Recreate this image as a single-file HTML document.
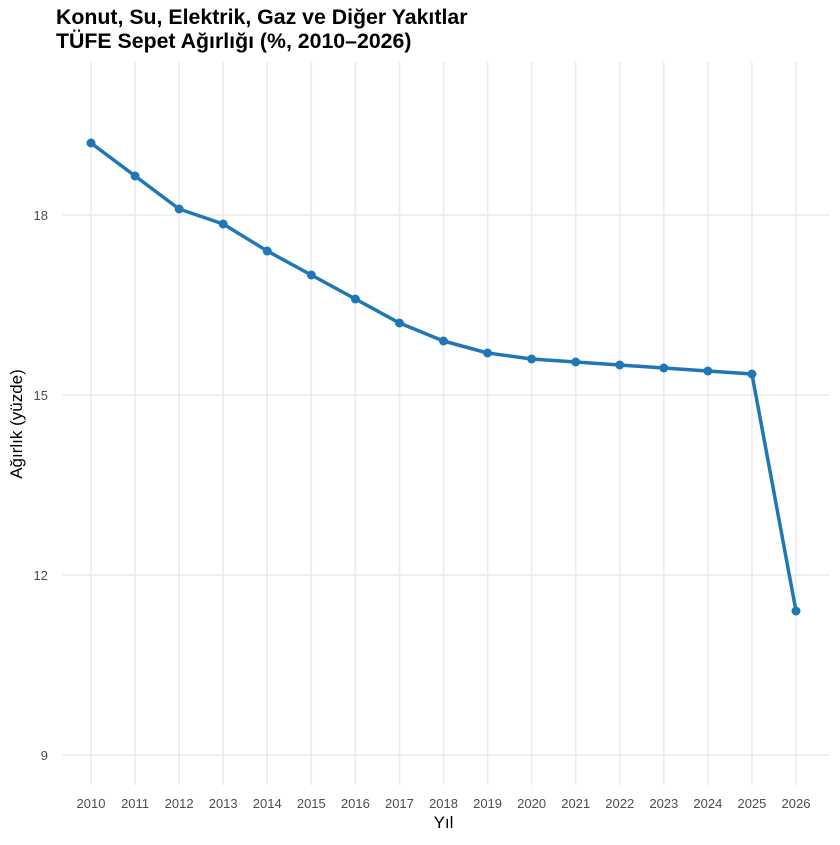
<!DOCTYPE html>
<html><head><meta charset="utf-8"><style>
html,body{margin:0;padding:0;background:#fff;}
</style></head><body>
<svg width="840" height="840" xmlns="http://www.w3.org/2000/svg" font-family="Liberation Sans, sans-serif">
<rect width="840" height="840" fill="#fff"/>
<g transform="translate(0,1)">
<g stroke="#ebebeb" stroke-width="1.6">
<line x1="62" x2="830" y1="214" y2="214"/>
<line x1="62" x2="830" y1="394" y2="394"/>
<line x1="62" x2="830" y1="574" y2="574"/>
<line x1="62" x2="830" y1="754" y2="754"/>
<line x1="91" x2="91" y1="61" y2="784"/>
<line x1="135.06" x2="135.06" y1="61" y2="784"/>
<line x1="179.13" x2="179.13" y1="61" y2="784"/>
<line x1="223.19" x2="223.19" y1="61" y2="784"/>
<line x1="267.25" x2="267.25" y1="61" y2="784"/>
<line x1="311.31" x2="311.31" y1="61" y2="784"/>
<line x1="355.38" x2="355.38" y1="61" y2="784"/>
<line x1="399.44" x2="399.44" y1="61" y2="784"/>
<line x1="443.5" x2="443.5" y1="61" y2="784"/>
<line x1="487.56" x2="487.56" y1="61" y2="784"/>
<line x1="531.63" x2="531.63" y1="61" y2="784"/>
<line x1="575.69" x2="575.69" y1="61" y2="784"/>
<line x1="619.75" x2="619.75" y1="61" y2="784"/>
<line x1="663.81" x2="663.81" y1="61" y2="784"/>
<line x1="707.88" x2="707.88" y1="61" y2="784"/>
<line x1="751.94" x2="751.94" y1="61" y2="784"/>
<line x1="796" x2="796" y1="61" y2="784"/>
</g>
<polyline fill="none" stroke="#1f78b4" stroke-width="3.5" stroke-linejoin="round" points="91,142 135.06,175 179.13,208 223.19,223 267.25,250 311.31,274 355.38,298 399.44,322 443.5,340 487.56,352 531.63,358 575.69,361 619.75,364 663.81,367 707.88,370 751.94,373 796,610"/>
<g fill="#1f78b4">
<circle cx="91" cy="142" r="4.5"/><circle cx="135.06" cy="175" r="4.5"/><circle cx="179.13" cy="208" r="4.5"/><circle cx="223.19" cy="223" r="4.5"/><circle cx="267.25" cy="250" r="4.5"/><circle cx="311.31" cy="274" r="4.5"/><circle cx="355.38" cy="298" r="4.5"/><circle cx="399.44" cy="322" r="4.5"/><circle cx="443.5" cy="340" r="4.5"/><circle cx="487.56" cy="352" r="4.5"/><circle cx="531.63" cy="358" r="4.5"/><circle cx="575.69" cy="361" r="4.5"/><circle cx="619.75" cy="364" r="4.5"/><circle cx="663.81" cy="367" r="4.5"/><circle cx="707.88" cy="370" r="4.5"/><circle cx="751.94" cy="373" r="4.5"/><circle cx="796" cy="610" r="4.5"/>
</g>
<g fill="#4d4d4d" font-size="13" text-anchor="end">
<text x="48" y="219">18</text><text x="48" y="399">15</text><text x="48" y="579">12</text><text x="48" y="759">9</text>
</g>
<g fill="#4d4d4d" font-size="13" text-anchor="middle">
<text x="91" y="807">2010</text><text x="135.06" y="807">2011</text><text x="179.13" y="807">2012</text><text x="223.19" y="807">2013</text><text x="267.25" y="807">2014</text><text x="311.31" y="807">2015</text><text x="355.38" y="807">2016</text><text x="399.44" y="807">2017</text><text x="443.5" y="807">2018</text><text x="487.56" y="807">2019</text><text x="531.63" y="807">2020</text><text x="575.69" y="807">2021</text><text x="619.75" y="807">2022</text><text x="663.81" y="807">2023</text><text x="707.88" y="807">2024</text><text x="751.94" y="807">2025</text><text x="796" y="807">2026</text>
</g>
</g>
<text x="443.5" y="828" font-size="17" text-anchor="middle" fill="#000">Yıl</text>
<text transform="translate(22,424) rotate(-90)" font-size="17" text-anchor="middle" fill="#000">Ağırlık (yüzde)</text>
<text x="56" y="24" font-size="21.3" font-weight="bold" fill="#000">Konut, Su, Elektrik, Gaz ve Diğer Yakıtlar</text>
<text x="56" y="48" font-size="21.3" font-weight="bold" fill="#000">TÜFE Sepet Ağırlığı (%, 2010–2026)</text>
</svg>
</body></html>
